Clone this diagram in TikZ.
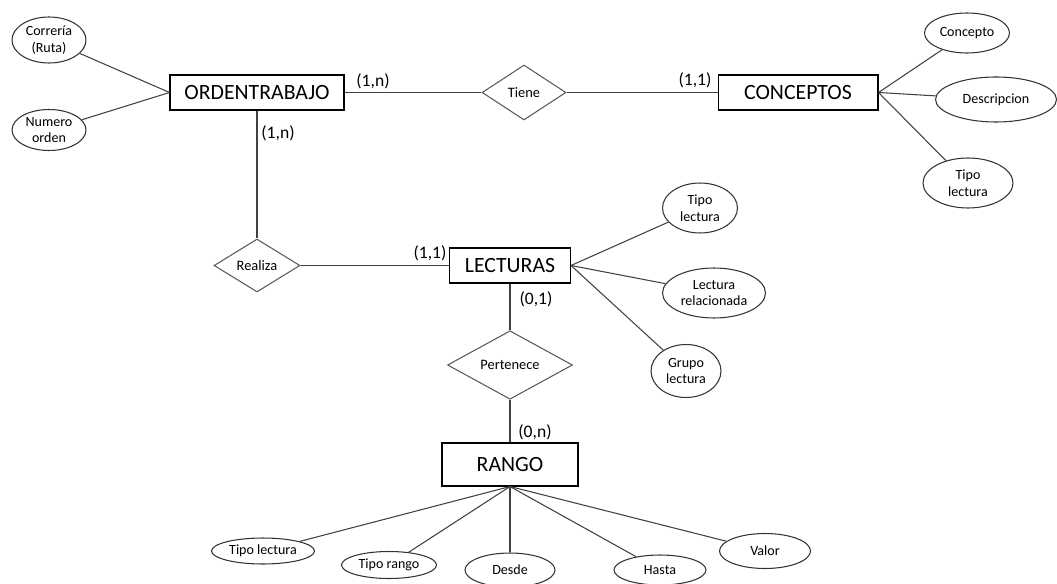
\documentclass[tikz,border=0pt]{standalone}
\usepackage{fontspec}
\setmainfont{Carlito}
\usetikzlibrary{shapes.geometric}

\tikzset{
    entidad/.style={draw=black, line width=0.6pt, rectangle, inner sep=0pt, font=\fontsize{12.4}{14}\selectfont},
    relacion/.style={draw=black!65, line width=0.6pt, diamond, inner sep=0pt, font=\fontsize{8.2}{9.6}\selectfont},
    atributo/.style={draw=black!80, line width=0.6pt, ellipse, inner sep=0pt, align=center, font=\fontsize{8}{9.6}\selectfont},
    card/.style={inner sep=0pt, font=\fontsize{10}{12}\selectfont},
    linea/.style={draw=black!75, line width=0.6pt}
}

\begin{document}
\begin{tikzpicture}[x=0.02cm, y=-0.02cm]
    \useasboundingbox (0,0) rectangle (1057,584);

    % エンティティ
    \node[entidad, minimum width=3.48cm, minimum height=0.7cm] (orden) at (257,92.5) {ORDENTRABAJO};
    \node[entidad, minimum width=3.2cm, minimum height=0.7cm] (conceptos) at (798,92.5) {CONCEPTOS};
    \node[entidad, minimum width=2.42cm, minimum height=0.7cm] (lecturas) at (510,265.5) {LECTURAS};
    \node[entidad, minimum width=2.72cm, minimum height=0.86cm] (rango) at (510,464.5) {RANGO};

    % リレーション
    \node[relacion, minimum width=1.68cm, minimum height=1.1cm] (tiene) at (524,92.5) {Tiene};
    \node[relacion, minimum width=1.72cm, minimum height=1.06cm] (realiza) at (257,265.5) {Realiza};
    \node[relacion, minimum width=2.5cm, minimum height=1.12cm] (pertenece) at (510,365) {Pertenece};

    % 属性 (ORDENTRABAJO)
    \node[atributo, minimum width=1.48cm, minimum height=0.92cm] (correria) at (49,40) {Correría\\(Ruta)};
    \node[atributo, minimum width=1.48cm, minimum height=0.82cm] (numero) at (49,130) {Numero\\orden};

    % 属性 (CONCEPTOS)
    \node[atributo, minimum width=1.7cm, minimum height=0.8cm] (concepto) at (967,33) {Concepto};
    \node[atributo, minimum width=2.42cm, minimum height=0.9cm] (descripcion) at (996,99.5) {Descripcion};
    \node[atributo, minimum width=1.8cm, minimum height=1cm] (tipoc) at (968,183) {Tipo\\lectura};

    % 属性 (LECTURAS)
    \node[atributo, minimum width=1.5cm, minimum height=1cm] (tipol) at (700,208) {Tipo\\lectura};
    \node[atributo, minimum width=2.06cm, minimum height=1cm] (relac) at (714,293) {Lectura\\relacionada};
    \node[atributo, minimum width=1.4cm, minimum height=1.06cm] (grupo) at (686,371) {Grupo\\lectura};

    % 属性 (RANGO)
    \node[atributo, minimum width=2.06cm, minimum height=0.52cm] (tipor) at (263,551) {Tipo lectura};
    \node[atributo, minimum width=1.9cm, minimum height=0.54cm] (tiporango) at (389,565) {Tipo rango};
    \node[atributo, minimum width=1.8cm, minimum height=0.68cm] (desde) at (510,570) {Desde};
    \node[atributo, minimum width=1.84cm, minimum height=0.6cm] (hasta) at (660,570) {Hasta};
    \node[atributo, minimum width=1.82cm, minimum height=0.7cm] (valor) at (765,551) {Valor};

    % 関係の線
    \draw[linea] (orden.east) -- (tiene.west);
    \draw[linea] (tiene.east) -- (conceptos.west);
    \draw[linea] (orden.south) -- (realiza.north);
    \draw[linea] (realiza.east) -- (lecturas.west);
    \draw[linea] (lecturas.south) -- (pertenece.north);
    \draw[linea] (pertenece.south) -- (rango.north);

    % 属性の線
    \draw[linea] (orden.west) -- (correria);
    \draw[linea] (orden.west) -- (numero);
    \draw[linea] (conceptos.east) -- (concepto);
    \draw[linea] (conceptos.east) -- (descripcion);
    \draw[linea] (conceptos.east) -- (tipoc);
    \draw[linea] (lecturas.east) -- (tipol);
    \draw[linea] (lecturas.east) -- (relac);
    \draw[linea] (lecturas.east) -- (grupo);
    \draw[linea] (rango.south) -- (tipor);
    \draw[linea] (rango.south) -- (tiporango);
    \draw[linea] (rango.south) -- (desde);
    \draw[linea] (rango.south) -- (hasta);
    \draw[linea] (rango.south) -- (valor);

    % カーディナリティ
    \node[card] (c1) at (373,81) {(1,n)};
    \node[card] (c2) at (695,80) {(1,1)};
    \node[card] (c3) at (278,133) {(1,n)};
    \node[card] (c4) at (430,253) {(1,1)};
    \node[card] (c5) at (536,299) {(0,1)};
    \node[card] (c6) at (535,432) {(0,n)};
\end{tikzpicture}
\end{document}
